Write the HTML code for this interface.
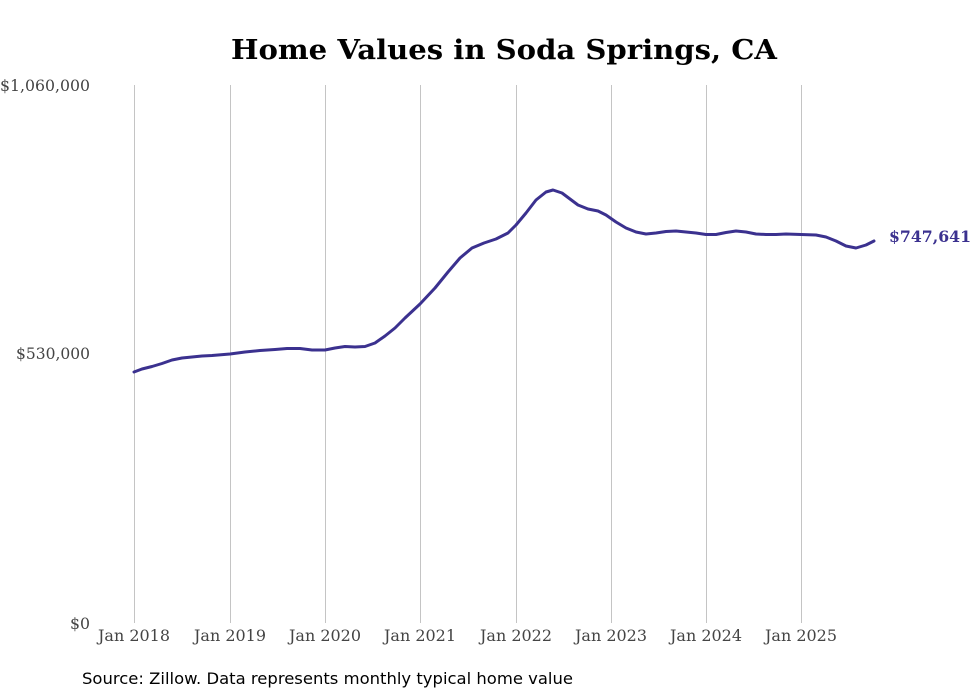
<!DOCTYPE html>
<html><head><meta charset="utf-8"><style>
body{margin:0;background:#fff;}
svg{display:block;}
</style></head><body>
<svg width="980" height="699" viewBox="0 0 980 699" xmlns="http://www.w3.org/2000/svg">
<rect width="980" height="699" fill="#fff"/>
<text x="231" y="59" textLength="546" lengthAdjust="spacingAndGlyphs" font-family="'DejaVu Serif',serif" font-weight="bold" font-size="27" fill="#000">Home Values in Soda Springs, CA</text>
<g stroke="#c4c4c4" stroke-width="1">
<line x1="134.5" y1="85" x2="134.5" y2="623"/>
<line x1="230.5" y1="85" x2="230.5" y2="623"/>
<line x1="325.5" y1="85" x2="325.5" y2="623"/>
<line x1="420.5" y1="85" x2="420.5" y2="623"/>
<line x1="516.5" y1="85" x2="516.5" y2="623"/>
<line x1="611.5" y1="85" x2="611.5" y2="623"/>
<line x1="706.5" y1="85" x2="706.5" y2="623"/>
<line x1="801.5" y1="85" x2="801.5" y2="623"/>
</g>
<g font-family="'DejaVu Serif',serif" font-size="16" fill="#444">
<text x="0" y="91" textLength="90" lengthAdjust="spacingAndGlyphs">$1,060,000</text>
<text x="16" y="359" textLength="74" lengthAdjust="spacingAndGlyphs">$530,000</text>
<text x="70" y="629" textLength="20" lengthAdjust="spacingAndGlyphs">$0</text>
</g>
<g font-family="'DejaVu Serif',serif" font-size="16" fill="#444">
<text x="98" y="641" textLength="72" lengthAdjust="spacingAndGlyphs">Jan 2018</text>
<text x="194" y="641" textLength="72" lengthAdjust="spacingAndGlyphs">Jan 2019</text>
<text x="289" y="641" textLength="72" lengthAdjust="spacingAndGlyphs">Jan 2020</text>
<text x="384" y="641" textLength="72" lengthAdjust="spacingAndGlyphs">Jan 2021</text>
<text x="480" y="641" textLength="72" lengthAdjust="spacingAndGlyphs">Jan 2022</text>
<text x="575" y="641" textLength="72" lengthAdjust="spacingAndGlyphs">Jan 2023</text>
<text x="670" y="641" textLength="72" lengthAdjust="spacingAndGlyphs">Jan 2024</text>
<text x="765" y="641" textLength="72" lengthAdjust="spacingAndGlyphs">Jan 2025</text>
</g>
<polyline fill="none" stroke="#3b318f" stroke-width="3" stroke-linejoin="round" stroke-linecap="round" points="134,372 142,369 152,366.5 162,363.5 172,360 182,358 192,357 202,356 212,355.5 230,354 245,352 260,350.5 275,349.5 287,348.5 300,348.5 312,350 325,350 335,348 345,346.5 355,347 365,346.5 375,343 385,336 395,328 405,318 420,304 435,288 448,272 460,258 472,248 484,243 496,239 508,233 516,225 526,213 536,200 546,192 553,190 562,193 570,199 578,205 588,209 598,211 606,215 616,222 626,228 636,232 646,234 656,233 666,231.5 676,231 686,232 696,233 706,234.5 716,234.5 726,232.5 736,231 746,232 756,234 766,234.5 776,234.5 786,234 801,234.5 816,235 826,237 836,241 846,246 856,248 866,245 874,241"/>
<text x="889" y="242" textLength="82" lengthAdjust="spacingAndGlyphs" font-family="'DejaVu Serif',serif" font-weight="bold" font-size="16" fill="#3b318f">$747,641</text>
<text x="82" y="684" textLength="491" lengthAdjust="spacingAndGlyphs" font-family="'DejaVu Sans',sans-serif" font-size="16" fill="#000">Source: Zillow. Data represents monthly typical home value</text>
</svg>
</body></html>
